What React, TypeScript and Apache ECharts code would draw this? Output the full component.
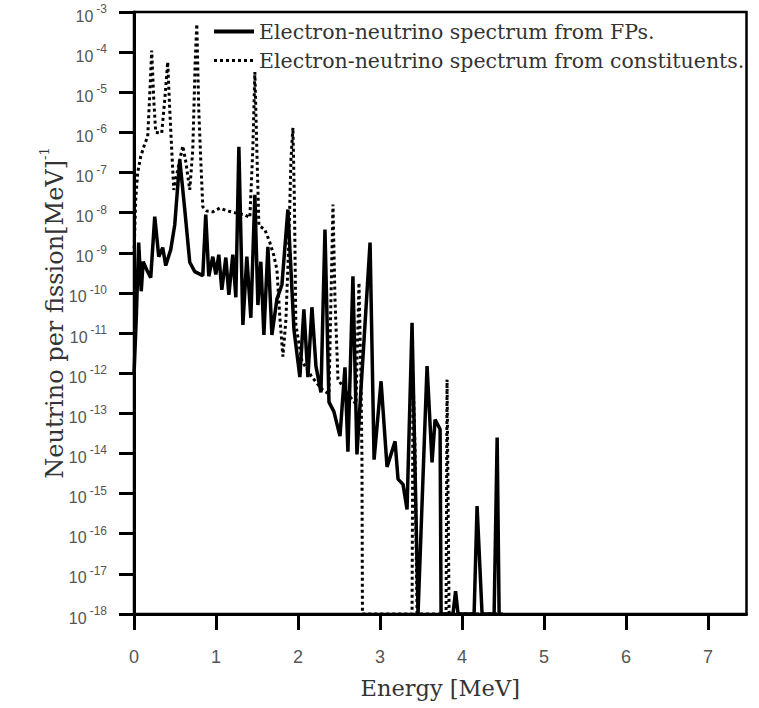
import React, { useEffect, useRef } from "react";
import * as echarts from "echarts";

// Energy grid [MeV] and spectrum values [per fission per MeV]
const fpEnergy = [
  0.0, 0.027, 0.057, 0.088, 0.112, 0.155, 0.204, 0.253, 0.302, 0.35, 0.387, 0.448, 0.497, 0.558, 0.619, 0.68,
  0.741, 0.839, 0.875, 0.912, 0.961, 0.998, 1.034, 1.071, 1.12, 1.157, 1.205, 1.242, 1.279, 1.328, 1.376, 1.425,
  1.474, 1.511, 1.547, 1.584, 1.633, 1.682, 1.743, 1.804, 1.877, 1.951, 2.023, 2.072, 2.121, 2.17, 2.219, 2.28,
  2.329, 2.378, 2.438, 2.512, 2.573, 2.609, 2.67, 2.719, 2.879, 2.928, 3.013, 3.086, 3.184, 3.22, 3.281, 3.33,
  3.391, 3.464, 3.574, 3.635, 3.672, 3.733, 3.745, 3.89, 3.922, 3.952, 4.148, 4.184, 4.245, 4.392, 4.429, 4.453,
];
const fpValue = [
  9e-13, 2.2e-11, 1.8e-9, 1.1e-10, 6e-10, 3.8e-10, 2.4e-10, 8e-9, 8e-10, 1.35e-9, 4.8e-10, 1.2e-9, 5e-9, 2.1e-7, 1.2e-8, 5.8e-10,
  3.4e-10, 2.7e-10, 9e-9, 2.6e-10, 8e-10, 2.9e-10, 9e-10, 1.2e-10, 7.6e-10, 9e-11, 9e-10, 7.8e-11, 4.4e-7, 1.6e-11, 8e-10, 2.4e-11,
  2.8e-8, 5e-11, 6e-10, 9e-12, 1.4e-9, 9e-12, 7e-11, 1.6e-10, 1.2e-8, 1.2e-11, 8e-13, 3.9e-11, 8e-13, 4.4e-11, 1.5e-12, 3.3e-13,
  3.8e-9, 1.9e-13, 1.1e-13, 2.7e-14, 1.4e-12, 1.1e-14, 2.6e-10, 9.5e-15, 1.8e-9, 7e-15, 6.3e-13, 4.6e-15, 2e-14, 2.3e-15, 1.7e-15, 4e-16,
  1.8e-11, 1e-18, 1.5e-12, 6e-15, 7e-14, 4e-14, 1e-18, 1e-18, 3.7e-18, 1e-18, 1e-18, 4.9e-16, 1e-18, 1e-18, 2.5e-14, 1e-18,
];

const constEnergy = [
  0.0, 0.021, 0.045, 0.082, 0.131, 0.167, 0.192, 0.216, 0.241, 0.265, 0.338, 0.375, 0.411, 0.436, 0.46, 0.485,
  0.534, 0.595, 0.631, 0.68, 0.717, 0.747, 0.766, 0.79, 0.814, 0.839, 0.888, 0.961, 1.046, 1.144, 1.23, 1.34,
  1.413, 1.449, 1.474, 1.498, 1.523, 1.596, 1.657, 1.706, 1.743, 1.779, 1.816, 1.853, 1.889, 1.914, 1.938, 1.956,
  1.974, 2.048, 2.17, 2.292, 2.378, 2.402, 2.427, 2.451, 2.488, 2.61, 2.707, 2.744, 2.768, 2.78, 2.786, 3.391,
  3.403, 3.427, 3.452, 3.806, 3.818, 3.843, 4.5,
];
const constValue = [
  9e-10, 2.1e-8, 1e-7, 2.5e-7, 5.2e-7, 7.8e-7, 8.7e-6, 1.1e-4, 6.5e-6, 1e-6, 9.7e-7, 6.5e-6, 5.7e-5, 3.6e-6, 3.7e-7, 3.7e-8,
  1.2e-7, 4.6e-7, 1.9e-7, 3.7e-8, 3.7e-7, 6.4e-5, 5e-4, 3.6e-6, 2.1e-7, 1.4e-8, 1.1e-8, 1.05e-8, 1.3e-8, 1.1e-8, 1e-8, 8.9e-9,
  7.6e-9, 3.7e-7, 3.2e-5, 3.7e-7, 4.8e-9, 3.8e-9, 1.8e-9, 8.5e-10, 3.8e-10, 2.5e-11, 2.6e-12, 2.2e-11, 2.1e-9, 2.1e-7, 1.3e-6, 2.1e-8,
  1.6e-11, 2e-12, 8e-13, 4e-13, 3e-13, 7e-11, 1.6e-8, 7e-11, 7e-13, 3e-13, 1.7e-13, 1.8e-10, 7e-13, 8.5e-15, 1e-18, 1e-18,
  8.3e-13, 1.3e-14, 1e-18, 1e-18, 7e-13, 1e-18, 1e-18,
];

const xTicks = [0, 1, 2, 3, 4, 5, 6, 7];
const seriesNames = [
  "Electron-neutrino spectrum from FPs.",
  "Electron-neutrino spectrum from constituents.",
];

export default function App() {
  const ref = useRef<HTMLDivElement>(null);

  useEffect(() => {
    if (!ref.current) return;
    const chart = echarts.init(ref.current, null, { renderer: "svg" });
    const fpData = fpEnergy.map((e, i) => [e, fpValue[i]]);
    const constData = constEnergy.map((e, i) => [e, constValue[i]]);
    const labelColor = "#555";
    chart.setOption({
      animation: false,
      backgroundColor: "#fff",
      grid: {
        left: 134,
        right: 12.5,
        top: 12,
        bottom: 94,
        show: true,
        borderColor: "#000",
        borderWidth: 2.5,
        backgroundColor: "transparent",
      },
      legend: {
        orient: "vertical",
        left: 207,
        top: 16,
        itemWidth: 40,
        itemHeight: 1,
        itemGap: 8,
        textStyle: { fontFamily: "DejaVu Serif", fontSize: 20.5, color: "#333", lineHeight: 21 },
        data: [
          { name: seriesNames[0], lineStyle: { width: 4, type: "solid", color: "#000" } },
          { name: seriesNames[1], lineStyle: { width: 3, type: "dotted", color: "#000" } },
        ],
      },
      xAxis: {
        type: "value",
        min: 0,
        max: 7.47,
        name: "Energy [MeV]",
        nameLocation: "middle",
        nameGap: 62,
        nameMoveOverlap: false,
        nameTextStyle: { fontFamily: "DejaVu Serif", fontSize: 22.5, color: "#333" },
        axisLine: { show: true, lineStyle: { color: "#000", width: 3 } },
        axisTick: { show: true, length: 16, lineStyle: { color: "#000", width: 3 }, customValues: xTicks },
        axisLabel: {
          customValues: xTicks,
          margin: 34,
          fontSize: 18,
          fontFamily: "Liberation Sans",
          color: labelColor,
        },
        splitLine: { show: false },
      },
      yAxis: {
        type: "log",
        logBase: 10,
        min: 1e-18,
        max: 1e-3,
        interval: 1,
        name: "{a|Neutrino per fission[MeV]}{s|-1}",
        nameLocation: "middle",
        nameGap: 70,
        nameMoveOverlap: false,
        nameTextStyle: {
          rich: {
            a: { fontFamily: "DejaVu Serif", fontSize: 24, color: "#333", lineHeight: 26, padding: [8, 0, 0, 0] },
            s: { fontFamily: "DejaVu Serif", fontSize: 13, color: "#333", lineHeight: 14, verticalAlign: "top" },
          },
        },
        axisLine: { show: true, lineStyle: { color: "#000", width: 3 } },
        axisTick: { show: true, length: 15, lineStyle: { color: "#000", width: 3 } },
        minorTick: { show: false },
        axisLabel: {
          margin: 27,
          formatter: (v: number) => `{b|10}{s|${Math.round(Math.log10(v))}}`,
          rich: {
            b: { fontSize: 16, fontFamily: "Liberation Sans", color: labelColor, lineHeight: 18, padding: [8, 0, 0, 0] },
            s: { fontSize: 12, fontFamily: "Liberation Sans", color: labelColor, lineHeight: 12, verticalAlign: "top", padding: [0, 0, 0, 3] },
          },
        },
        splitLine: { show: false },
      },
      series: [
        {
          name: seriesNames[0],
          type: "line",
          data: fpData,
          symbol: "none",
          showSymbol: false,
          clip: true,
          lineStyle: { color: "#000", width: 3.5, type: "solid" },
          itemStyle: { color: "#000" },
          z: 3,
        },
        {
          name: seriesNames[1],
          type: "line",
          data: constData,
          symbol: "none",
          showSymbol: false,
          clip: true,
          lineStyle: { color: "#000", width: 3, type: "dotted" },
          itemStyle: { color: "#000" },
          z: 4,
        },
      ],
    });
    return () => chart.dispose();
  }, []);

  return (
    <div
      ref={ref}
      style={{ position: "fixed", left: 0, top: 0, width: 759, height: 708, background: "#fff" }}
    />
  );
}
